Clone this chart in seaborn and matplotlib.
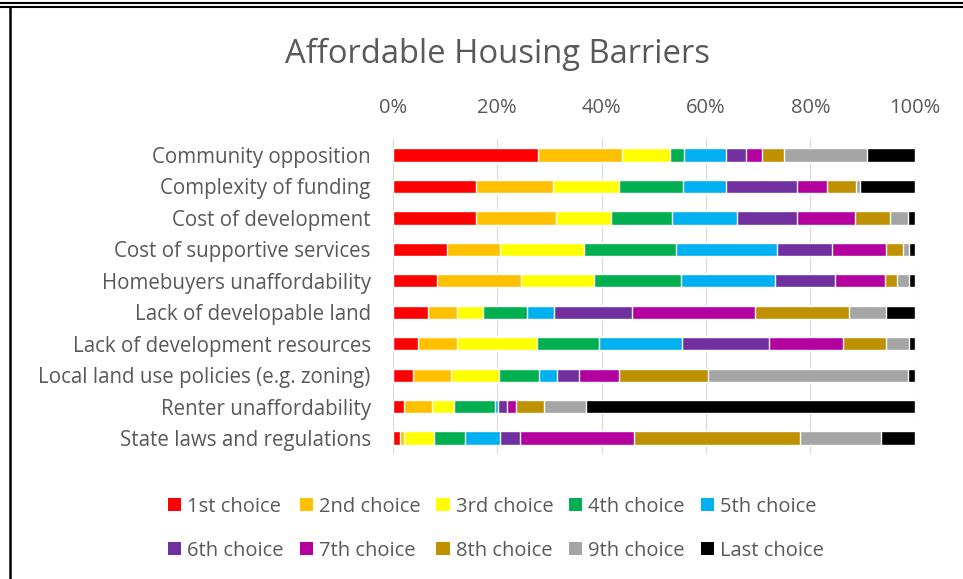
import numpy as np
import pandas as pd
import seaborn as sns
import matplotlib.pyplot as plt
from matplotlib.patches import Patch
from matplotlib.lines import Line2D

barriers = [
    "Community opposition",
    "Complexity of funding",
    "Cost of development",
    "Cost of supportive services",
    "Homebuyers unaffordability",
    "Lack of developable land",
    "Lack of development resources",
    "Local land use policies (e.g. zoning)",
    "Renter unaffordability",
    "State laws and regulations",
]

choices = ["1st choice", "2nd choice", "3rd choice", "4th choice", "5th choice",
           "6th choice", "7th choice", "8th choice", "9th choice", "Last choice"]

# share (%) of each choice per barrier
first_choice = [27.8, 15.9, 15.9, 10.3, 8.5, 6.7, 4.9, 3.9, 2.1, 1.4]
second_choice = [16.0, 14.7, 15.4, 10.3, 16.1, 5.5, 7.3, 7.3, 5.4, 0.7]
third_choice = [9.2, 12.7, 10.4, 16.1, 14.0, 5.0, 15.4, 9.2, 4.2, 5.8]
fourth_choice = [2.8, 12.2, 11.8, 17.5, 16.6, 8.4, 11.9, 7.6, 7.9, 5.9]
fifth_choice = [8.1, 8.4, 12.4, 19.3, 18.1, 5.2, 15.8, 3.5, 0.6, 6.8]
sixth_choice = [3.7, 13.5, 11.5, 10.6, 11.4, 15.0, 16.7, 4.2, 1.7, 3.7]
seventh_choice = [3.2, 5.7, 11.2, 10.3, 9.5, 23.6, 14.2, 7.6, 1.6, 21.9]
eighth_choice = [4.2, 5.7, 6.6, 3.4, 2.3, 18.0, 8.3, 17.1, 5.5, 31.8]
ninth_choice = [15.8, 0.6, 3.5, 1.1, 2.4, 7.1, 4.4, 38.3, 8.0, 15.5]
last_choice = [9.2, 10.6, 1.3, 1.1, 1.1, 5.5, 1.1, 1.3, 63.0, 6.5]

colors = ["#FF0000", "#FFC000", "#FFFF00", "#00B050", "#00B0F0",
          "#7030A0", "#B4009E", "#BF9000", "#A5A5A5", "#000000"]

shares = np.array([first_choice, second_choice, third_choice, fourth_choice,
                   fifth_choice, sixth_choice, seventh_choice, eighth_choice,
                   ninth_choice, last_choice])
shares = shares / shares.sum(axis=0) * 100
cum = shares.cumsum(axis=0)

rows = []
for i, c in enumerate(choices):
    for j, b in enumerate(barriers):
        rows.append({"barrier": b, "choice": c, "cum": cum[i, j]})
df = pd.DataFrame(rows)

sns.set_style("white")
plt.rcParams["font.family"] = ["Open Sans", "DejaVu Sans"]

fig = plt.figure(figsize=(9.63, 5.79), dpi=100)
ax = fig.add_axes([0.408, 0.2164, 0.542, 0.543])

# draw from the longest cumulative bar to the shortest so each segment shows
for c, col in reversed(list(zip(choices, colors))):
    sns.barplot(data=df[df["choice"] == c], x="cum", y="barrier", order=barriers,
                color=col, saturation=1, width=0.42, errorbar=None,
                orient="h", ax=ax, zorder=3)

ax.set_xlim(0, 100)
ax.set_ylim(len(barriers) - 0.5, -0.5)
ax.set_xticks(np.arange(0, 101, 20))
ax.set_xticklabels([f"{v}%" for v in range(0, 101, 20)])
ax.xaxis.tick_top()
ax.tick_params(axis="x", length=0, pad=15, labelsize=14.5, labelcolor="#595959")
ax.tick_params(axis="y", length=0, pad=16, labelsize=14.8, labelcolor="#595959")
ax.set_xlabel("")
ax.set_ylabel("")
ax.grid(axis="x", color="#D9D9D9", linewidth=0.8, zorder=0)
ax.set_axisbelow(True)
for s in ax.spines.values():
    s.set_visible(False)

fig.text(0.517, 0.906, "Affordable Housing Barriers", ha="center", va="center",
         fontsize=23.6, color="#595959")

# legend reads across rows, so reorder for matplotlib's column filling
order = [0, 5, 1, 6, 2, 7, 3, 8, 4, 9]
handles = [Patch(facecolor=colors[k], edgecolor="none") for k in order]
labels = [choices[k] for k in order]
fig.legend(handles, labels, ncol=5, loc="center", bbox_to_anchor=(0.515, 0.087),
           frameon=False, fontsize=14.5, labelcolor="#595959",
           handlelength=0.65, handleheight=0.65, handletextpad=0.3,
           columnspacing=0.8, labelspacing=1.2)

# frame lines of the screenshot
fig.add_artist(Line2D([0, 1], [1 - 2.5 / 579, 1 - 2.5 / 579], color="black", lw=1.5))
fig.add_artist(Line2D([0, 1], [1 - 6.5 / 579, 1 - 6.5 / 579], color="black", lw=1.5))
fig.add_artist(Line2D([9.5 / 963, 9.5 / 963], [0, 1 - 6.5 / 579], color="black", lw=1.8))

fig.savefig("out.png", dpi=100)
